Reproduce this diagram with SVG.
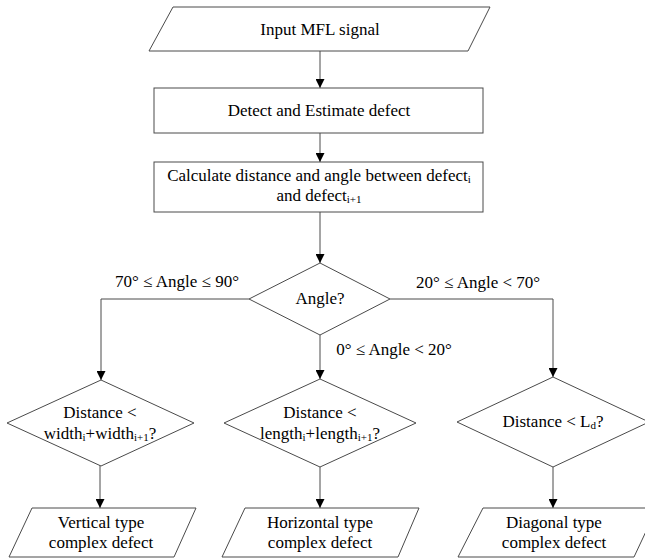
<svg xmlns="http://www.w3.org/2000/svg" width="645" height="559" viewBox="0 0 645 559">
<style>
.s{fill:#fff;stroke:#4a4a4a;stroke-width:1}
.c{fill:none;stroke:#4a4a4a;stroke-width:1}
text{font-family:"Liberation Serif","Times New Roman",serif;font-size:17px;fill:#000;text-anchor:middle}
.sub{font-size:11px}
</style>
<defs>
<marker id="ah" viewBox="0 0 10 10" refX="10" refY="5" markerWidth="9" markerHeight="9" markerUnits="userSpaceOnUse" orient="auto">
<path d="M0,0 L10,5 L0,10 z" fill="#000"/>
</marker>
</defs>
<rect width="645" height="559" fill="#fff"/>
<g id="connectors">
<path class="c" d="M320,51 V88" marker-end="url(#ah)"/>
<path class="c" d="M320,133 V162" marker-end="url(#ah)"/>
<path class="c" d="M320,212 V263" marker-end="url(#ah)"/>
<path class="c" d="M249,299 H101 V380" marker-end="url(#ah)"/>
<path class="c" d="M320,335 V379" marker-end="url(#ah)"/>
<path class="c" d="M390,299 H553 V377" marker-end="url(#ah)"/>
<path class="c" d="M100,465 V508" marker-end="url(#ah)"/>
<path class="c" d="M320,467 V508" marker-end="url(#ah)"/>
<path class="c" d="M553,467 V508" marker-end="url(#ah)"/>
<text x="177" y="287">70° ≤ Angle ≤ 90°</text>
<text x="478" y="288">20° ≤ Angle &lt; 70°</text>
<text x="394" y="355">0° ≤ Angle &lt; 20°</text>
</g>
<g id="input">
<polygon class="s" points="173,7 490,7 468,51 149,51"/>
<text x="320" y="35">Input MFL signal</text>
</g>
<g id="detect">
<rect class="s" x="154" y="88" width="329" height="45"/>
<text x="319" y="116">Detect and Estimate defect</text>
</g>
<g id="calc">
<rect class="s" x="154" y="162" width="329" height="50"/>
<text x="319" y="181">Calculate distance and angle between defect<tspan class="sub" dy="2">i</tspan></text>
<text x="319" y="201">and defect<tspan class="sub" dy="2">i+1</tspan></text>
</g>
<g id="angle">
<polygon class="s" points="320,263 390,299 320,335 249,299"/>
<text x="320" y="304">Angle?</text>
</g>
<g id="vdec">
<polygon class="s" points="101,380 194,423 101,466 7,423"/>
<text x="100" y="418">Distance &lt;</text>
<text x="100" y="439">width<tspan class="sub" dy="2">i</tspan><tspan dy="-2">+width</tspan><tspan class="sub" dy="2">i+1</tspan><tspan dy="-2">?</tspan></text>
</g>
<g id="hdec">
<polygon class="s" points="320,379 416,423 320,467 224,423"/>
<text x="320" y="418">Distance &lt;</text>
<text x="320" y="439">length<tspan class="sub" dy="2">i</tspan><tspan dy="-2">+length</tspan><tspan class="sub" dy="2">i+1</tspan><tspan dy="-2">?</tspan></text>
</g>
<g id="ddec">
<polygon class="s" points="553,377 649,422 553,467 457,422"/>
<text x="553" y="427">Distance &lt; L<tspan class="sub" dy="2">d</tspan><tspan dy="-2">?</tspan></text>
</g>
<g id="vout">
<polygon class="s" points="32,508 196,508 174,557 9,557"/>
<text x="101" y="528">Vertical type</text>
<text x="101" y="548">complex defect</text>
</g>
<g id="hout">
<polygon class="s" points="245,508 419,508 398,557 222,557"/>
<text x="320" y="528">Horizontal type</text>
<text x="320" y="548">complex defect</text>
</g>
<g id="dout">
<polygon class="s" points="483,508 657,508 634,557 458,557"/>
<text x="554" y="528">Diagonal type</text>
<text x="554" y="548">complex defect</text>
</g>
</svg>
